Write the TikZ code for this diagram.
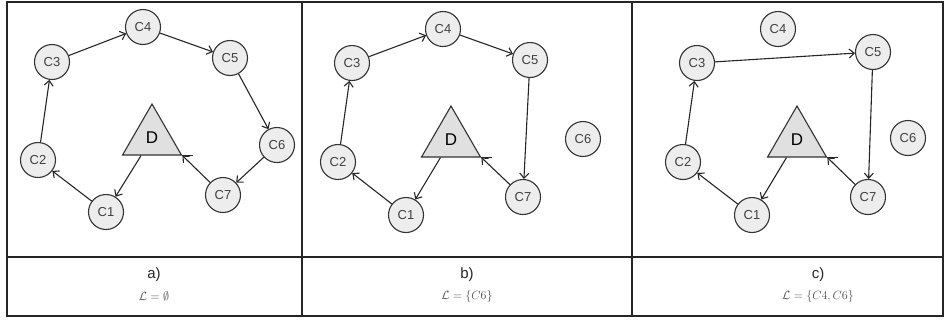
\documentclass[tikz,border=0pt]{standalone}
\usepackage{amssymb}
\usepackage{fontspec}
\setmainfont{Liberation Sans}
\usetikzlibrary{shapes.geometric, arrows.meta}

\begin{document}
\begin{tikzpicture}[x=1pt, y=-1pt, >={Straight Barb[length=5pt, width=9pt]},
        main/.style = {draw=black!80, circle, fill=black!7, line width=1.1pt, minimum size=35pt, inner sep=0pt, text=black!75, font=\fontsize{13}{13}\selectfont},
        depot/.style = {draw=black!80, regular polygon, regular polygon sides=3, fill=black!12, line width=1.1pt, minimum size=68pt, inner sep=0pt, font=\fontsize{17}{17}\selectfont},
        edge/.style = {->, draw=black!85, line width=1.1pt},
        caption/.style = {font=\fontsize{15}{15}\selectfont, text=black!85},
        law/.style = {font=\fontsize{13}{13}\selectfont, text=black!70}]
        \useasboundingbox (0,0) rectangle (945,322);
        % frame
        \draw[line width=1.8pt, black!85] (7,2) rectangle (943,316);
        \draw[line width=1.4pt, black!85] (7,257) -- (943,257);
        \draw[line width=1.4pt, black!85] (302,2) -- (302,316);
        \draw[line width=1.4pt, black!85] (632,2) -- (632,316);
        % a)
        \node[depot] (aD) at (152,138) {D};
        \node[main] (a1) at (106,212) {C1};
        \node[main] (a2) at (38,160) {C2};
        \node[main] (a3) at (52,62) {C3};
        \node[main] (a4) at (143,27) {C4};
        \node[main] (a5) at (230,58) {C5};
        \node[main] (a6) at (277,145) {C6};
        \node[main] (a7) at (223,195) {C7};
        \draw[edge] (a1) -- (a2);
        \draw[edge] (a2) -- (a3);
        \draw[edge] (a3) -- (a4);
        \draw[edge] (a4) -- (a5);
        \draw[edge] (a5) -- (a6);
        \draw[edge] (a6) -- (a7);
        \draw[edge] (a7) -- (aD.corner 3);
        \draw[edge] (aD) -- (a1);
        \draw[black!85, line width=1.1pt] (aD.corner 3) -- ++(11,0);
        % b)
        \node[depot] (bD) at (451,140) {D};
        \node[main] (b1) at (406,215) {C1};
        \node[main] (b2) at (338,162) {C2};
        \node[main] (b3) at (352,63) {C3};
        \node[main] (b4) at (443,29) {C4};
        \node[main] (b5) at (530,60) {C5};
        \node[main] (b6) at (583,139) {C6};
        \node[main] (b7) at (523,197) {C7};
        \draw[edge] (b1) -- (b2);
        \draw[edge] (b2) -- (b3);
        \draw[edge] (b3) -- (b4);
        \draw[edge] (b4) -- (b5);
        \draw[edge] (b5) -- (b7);
        \draw[edge] (b7) -- (bD.corner 3);
        \draw[edge] (bD) -- (b1);
        \draw[black!85, line width=1.1pt] (bD.corner 3) -- ++(11,0);
        % c)
        \node[depot] (cD) at (797,140) {D};
        \node[main] (c1) at (752,215) {C1};
        \node[main] (c2) at (683,162) {C2};
        \node[main] (c3) at (697,63) {C3};
        \node[main] (c4) at (778,29) {C4};
        \node[main] (c5) at (873,52) {C5};
        \node[main] (c6) at (908,138) {C6};
        \node[main] (c7) at (868,197) {C7};
        \draw[edge] (c1) -- (c2);
        \draw[edge] (c2) -- (c3);
        \draw[edge] (c3) -- (c5);
        \draw[edge] (c5) -- (c7);
        \draw[edge] (c7) -- (cD.corner 3);
        \draw[edge] (cD) -- (c1);
        \draw[black!85, line width=1.1pt] (cD.corner 3) -- ++(11,0);
        % captions
        \node[caption] (capa) at (154,275) {a)};
        \node[law] (lawa) at (154,296) {$\mathcal{L} = \emptyset$};
        \node[caption] (capb) at (467,275) {b)};
        \node[law] (lawb) at (467,296) {$\mathcal{L} = \{C6\}$};
        \node[caption] (capc) at (818,275) {c)};
        \node[law] (lawc) at (818,296) {$\mathcal{L} = \{C4, C6\}$};
\end{tikzpicture}
\end{document}
